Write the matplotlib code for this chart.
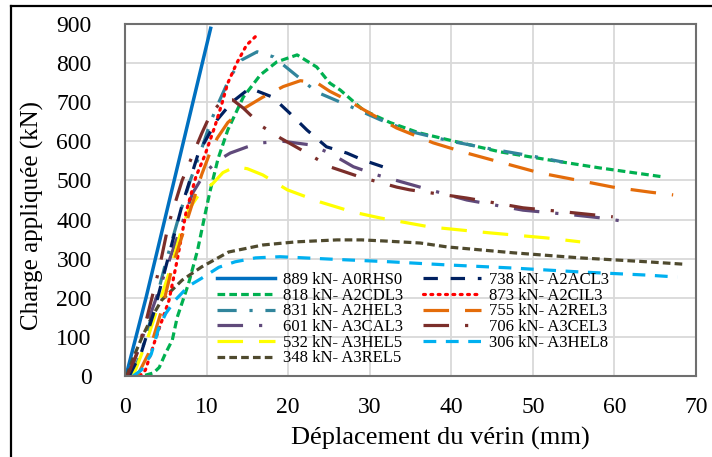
import matplotlib
matplotlib.use("Agg")
import matplotlib.pyplot as plt
from matplotlib.lines import Line2D

# ---- data ----
x_A0RHS0 = [0, 0.3, 2.6, 10.5]
y_A0RHS0 = [0, 15, 202, 889]

x_A2CDL3 = [1.0, 2.5, 3.5, 4.2, 4.9, 5.8, 6.4, 7.8, 8.9, 9.8, 10.4, 11.4, 12.6, 14.5, 16.6, 18.6, 21.1, 23.5, 25.1, 26.4, 29.2, 32.5, 36.0, 39.8, 46.0, 52.1, 58.2, 66.0]
y_A2CDL3 = [0, 2, 8, 22, 55, 92, 150, 237, 322, 412, 470, 555, 629, 713, 770, 803, 821, 790, 749, 731, 680, 648, 622, 603, 573, 552, 532, 509]

x_A2HEL3 = [0.8, 2.0, 3.5, 5.0, 6.5, 8.0, 9.3, 10.5, 11.5, 12.9, 14.3, 16.2, 18.2, 20.2, 23.5, 27.2, 31.3, 35.0, 40.0, 45.0, 50.0, 53.7]
y_A2HEL3 = [0, 60, 170, 290, 400, 500, 575, 650, 700, 765, 808, 829, 816, 782, 726, 693, 655, 625, 600, 580, 562, 547]

x_A3CAL3 = [0.5, 3.0, 5.5, 8.3, 9.8, 11.3, 12.9, 15.0, 16.6, 19.4, 22.7, 25.1, 28.0, 30.9, 36.5, 41.9, 48.8, 54.9, 58.0, 61.7]
y_A3CAL3 = [0, 150, 300, 468, 519, 550, 570, 586, 596, 600, 591, 570, 535, 514, 481, 450, 424, 412, 405, 394]

x_A3HEL5 = [1.0, 2.7, 4.2, 5.8, 6.8, 7.8, 9.0, 10.8, 12.0, 13.5, 15.0, 16.9, 19.9, 23.9, 28.0, 31.3, 37.4, 44.7, 51.7, 55.8]
y_A3HEL5 = [0, 92, 187, 289, 365, 425, 462, 493, 520, 535, 530, 514, 476, 445, 419, 404, 381, 366, 353, 343]

x_A3REL5 = [0.2, 0.9, 2.1, 3.3, 4.5, 7.0, 9.4, 12.7, 16.9, 21.0, 26.0, 29.0, 32.0, 36.2, 39.5, 47.6, 55.8, 64.0, 68.4]
y_A3REL5 = [0, 41, 100, 151, 194, 245, 279, 317, 335, 343, 348, 348, 345, 340, 330, 315, 302, 292, 286]

x_A2ACL3 = [0.5, 2.0, 3.5, 4.9, 7.0, 9.0, 11.3, 13.1, 15.3, 18.1, 20.2, 22.3, 24.7, 27.2, 29.2, 31.6]
y_A2ACL3 = [0, 60, 160, 271, 437, 570, 655, 700, 736, 713, 672, 629, 586, 570, 552, 535]

x_A2CIL3 = [1.8, 2.5, 3.7, 5.4, 6.4, 7.5, 8.7, 9.8, 11.0, 11.9, 12.6, 13.7, 14.9, 16.2]
y_A2CIL3 = [0, 15, 92, 194, 297, 420, 510, 565, 637, 698, 749, 800, 846, 872]

x_A2REL3 = [1.5, 2.9, 4.5, 5.8, 8.2, 9.4, 10.4, 11.3, 12.6, 14.5, 16.9, 19.4, 21.5, 23.5, 25.1, 27.2, 30.0, 33.3, 37.8, 41.9, 46.3, 50.9, 55.4, 59.8, 64.4, 67.2]
y_A2REL3 = [0, 58, 169, 279, 437, 515, 570, 608, 648, 683, 713, 740, 755, 750, 728, 706, 672, 634, 596, 570, 545, 519, 501, 483, 470, 463]

x_A3CEL3 = [0.3, 1.5, 2.7, 4.2, 5.3, 7.0, 9.4, 10.5, 12.0, 13.2, 14.5, 16.9, 19.0, 22.3, 25.1, 28.8, 33.3, 34.9, 41.9, 48.8, 54.2, 59.8]
y_A3CEL3 = [0, 60, 150, 275, 385, 500, 620, 670, 706, 706, 685, 637, 609, 570, 535, 509, 483, 476, 455, 430, 419, 407]

x_A3HEL8 = [1.0, 2.0, 3.2, 4.1, 5.0, 6.2, 7.8, 9.4, 11.5, 13.5, 16.0, 19.0, 22.0, 26.0, 32.5, 39.5, 47.6, 55.8, 64.0, 67.7]
y_A3HEL8 = [0, 15, 55, 120, 160, 195, 230, 250, 278, 292, 302, 305, 302, 298, 292, 284, 276, 266, 258, 253]

labels = ["889 kN- A0RHS0", "818 kN- A2CDL3", "831 kN- A2HEL3", "601 kN- A3CAL3",
          "532 kN- A3HEL5", "348 kN- A3REL5", "738 kN- A2ACL3", "873 kN- A2CIL3",
          "755 kN- A2REL3", "706 kN- A3CEL3", "306 kN- A3HEL8"]

x_ticks = [0, 10, 20, 30, 40, 50, 60, 70]
y_ticks = [0, 100, 200, 300, 400, 500, 600, 700, 800, 900]

plt.rcParams['font.family'] = ['Liberation Serif', 'DejaVu Serif']

fig = plt.figure(figsize=(7.12, 4.57), dpi=100)
ax = fig.add_axes([125/712, 81/457, 571/712, 352/457])

lw = 2.3
series = [
    (x_A0RHS0, y_A0RHS0, dict(color='#0070C0', linestyle='-', lw=2.5)),
    (x_A2CDL3, y_A2CDL3, dict(color='#00B050', linestyle=(0, (2.4, 1.3)), lw=lw)),
    (x_A2HEL3, y_A2HEL3, dict(color='#31859C', linestyle=(0, (6, 4, 1, 4)), lw=lw)),
    (x_A3CAL3, y_A3CAL3, dict(color='#604A7B', linestyle=(0, (8, 5, 1, 5)), lw=lw)),
    (x_A3HEL5, y_A3HEL5, dict(color='#FFFF00', linestyle=(0, (8, 5)), lw=lw)),
    (x_A3REL5, y_A3REL5, dict(color='#4F4A2E', linestyle=(0, (2.4, 1.3)), lw=lw)),
    (x_A2ACL3, y_A2ACL3, dict(color='#002060', linestyle=(0, (4.5, 4)), lw=lw)),
    (x_A2CIL3, y_A2CIL3, dict(color='#FF0000', linestyle=(0, (0.6, 1.7)), lw=lw, dash_capstyle='round')),
    (x_A2REL3, y_A2REL3, dict(color='#E46C0A', linestyle=(0, (8, 5)), lw=lw)),
    (x_A3CEL3, y_A3CEL3, dict(color='#7B2E2A', linestyle=(0, (8, 5, 1, 5)), lw=lw)),
    (x_A3HEL8, y_A3HEL8, dict(color='#00B0F0', linestyle=(0, (4, 3)), lw=lw)),
]

for (xs, ys, st), lab in zip(series, labels):
    ax.plot(xs, ys, label=lab, **st)

ax.set_xlim(0, 70)
ax.set_ylim(0, 900)
ax.set_xticks(x_ticks)
ax.set_yticks(y_ticks)
ax.tick_params(axis='both', length=0, labelsize=17, colors='black')
ax.tick_params(axis='y', pad=24)
ax.tick_params(axis='x', pad=15)
ax.grid(True, color='#D9D9D9', lw=1.3)
ax.set_axisbelow(True)
for s in ax.spines.values():
    s.set_color('#6F6F6F')
    s.set_linewidth(1.5)

ax.set_ylabel("Charge appliquée (kN)", fontsize=18, va='center')
ax.yaxis.set_label_coords((32 - 125) / 571, 0.457)
ax.set_xlabel("Déplacement du vérin (mm)", fontsize=19, va='center')
ax.xaxis.set_label_coords(0.552, (376 - 438) / 352)

leg = ax.legend(loc='upper left', bbox_to_anchor=(0.161, 0.295), ncol=2, frameon=False,
                fontsize=12, handlelength=3.5, handletextpad=0.45, columnspacing=1.2,
                labelspacing=-0.02, borderpad=0, borderaxespad=0)

# outer frame lines (top and left)
fig.add_artist(Line2D([11/712, 1.0], [1 - 6/457, 1 - 6/457], color='black', lw=1.6,
                      transform=fig.transFigure))
fig.add_artist(Line2D([11/712, 11/712], [0, 1 - 6/457], color='black', lw=1.6,
                      transform=fig.transFigure))

fig.savefig('out.png', dpi=100)
